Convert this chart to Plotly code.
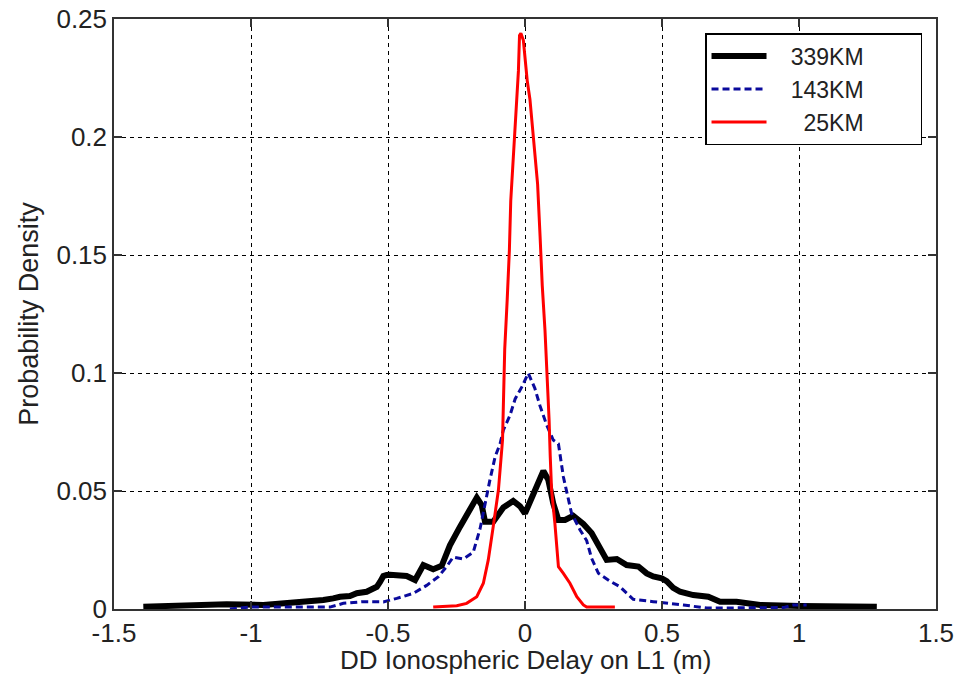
import plotly.graph_objects as go

# ---- data ----
x_339 = [-1.393, -1.186, -1.089, -0.955, -0.882, -0.821, -0.785, -0.736, -0.700, -0.675, -0.639,
         -0.614, -0.578, -0.541, -0.529, -0.517, -0.505, -0.493, -0.432, -0.401, -0.371, -0.335,
         -0.304, -0.274, -0.237, -0.201, -0.176, -0.158, -0.146, -0.116, -0.079, -0.043, -0.018,
         0.000, 0.030, 0.067, 0.085, 0.103, 0.122, 0.146, 0.176, 0.213, 0.243, 0.268, 0.298,
         0.335, 0.371, 0.414, 0.444, 0.468, 0.499, 0.517, 0.541, 0.566, 0.614, 0.669, 0.712,
         0.772, 0.809, 0.858, 1.004, 1.284]
y_339 = [0.0010, 0.0017, 0.0020, 0.0017, 0.0024, 0.0024, 0.0030, 0.0038, 0.0045, 0.0052, 0.0055,
         0.0067, 0.0073, 0.0094, 0.0115, 0.0140, 0.0144, 0.0145, 0.0140, 0.0123, 0.0186, 0.0168,
         0.0183, 0.0270, 0.0349, 0.0420, 0.0472, 0.0440, 0.0370, 0.0370, 0.0430, 0.0458, 0.0435,
         0.0405, 0.0490, 0.0585, 0.0547, 0.0448, 0.0377, 0.0377, 0.0395, 0.0360, 0.0322, 0.0270,
         0.0208, 0.0212, 0.0186, 0.0180, 0.0151, 0.0138, 0.0130, 0.0118, 0.0090, 0.0073, 0.0059,
         0.0052, 0.0031, 0.0031, 0.0024, 0.0017, 0.0013, 0.0010]

x_143 = [-1.077, -1.004, -0.712, -0.663, -0.590, -0.517, -0.468, -0.408, -0.359, -0.316, -0.286,
         -0.262, -0.225, -0.189, -0.164, -0.146, -0.128, -0.109, -0.091, -0.079, -0.055, -0.036,
         -0.012, 0.012, 0.036, 0.055, 0.079, 0.103, 0.122, 0.140, 0.158, 0.170, 0.201, 0.225,
         0.243, 0.268, 0.310, 0.347, 0.371, 0.395, 0.468, 0.529, 0.578, 0.663, 0.943, 0.979, 1.028]
y_143 = [0.0000, 0.0008, 0.0008, 0.0024, 0.0031, 0.0030, 0.0045, 0.0066, 0.0100, 0.0137, 0.0180,
         0.0220, 0.0212, 0.0240, 0.0340, 0.0448, 0.0547, 0.0645, 0.0700, 0.0758, 0.0820, 0.0890,
         0.0940, 0.0999, 0.0935, 0.0860, 0.0780, 0.0716, 0.0700, 0.0560, 0.0470, 0.0405, 0.0335,
         0.0290, 0.0215, 0.0151, 0.0118, 0.0094, 0.0067, 0.0041, 0.0031, 0.0024, 0.0017, 0.0004,
         0.0006, 0.0017, 0.0017]

x_25 = [-0.335, -0.249, -0.213, -0.176, -0.152, -0.134, -0.116, -0.097, -0.082, -0.078, -0.074,
        -0.065, -0.057, -0.052, -0.046, -0.039, -0.030, -0.024, -0.020, -0.015, -0.006, 0.000,
        0.008, 0.018, 0.027, 0.036, 0.046, 0.055, 0.063, 0.073, 0.081, 0.088, 0.092, 0.097,
        0.109, 0.116, 0.122, 0.140, 0.164, 0.189, 0.213, 0.225, 0.328]
y_25 = [0.0008, 0.0014, 0.0024, 0.0052, 0.0109, 0.0208, 0.0349, 0.0504, 0.0716, 0.0900, 0.1100,
        0.1310, 0.1520, 0.1730, 0.1860, 0.1990, 0.2150, 0.2280, 0.2430, 0.2440, 0.2410, 0.2320,
        0.2240, 0.2160, 0.2050, 0.1930, 0.1800, 0.1580, 0.1370, 0.1180, 0.1000, 0.0800, 0.0650,
        0.0504, 0.0364, 0.0264, 0.0179, 0.0151, 0.0109, 0.0052, 0.0017, 0.0008, 0.0008]

series_names = ["339KM", "143KM", "\u00a0\u00a025KM"]

x_tickvals = [-1.5, -1, -0.5, 0, 0.5, 1, 1.5]
x_ticktext = ["-1.5", "-1", "-0.5", "0", "0.5", "1", "1.5"]
y_tickvals = [0, 0.05, 0.1, 0.15, 0.2, 0.25]
y_ticktext = ["0", "0.05", "0.1", "0.15", "0.2", "0.25"]

x_title = "DD Ionospheric Delay on L1 (m)"
y_title = "Probability Density"

FONT = "Liberation Sans, Arial, sans-serif"
TXT = "#222222"
LEAD = "\u00a0" * 3   # gap between legend sample and label
PAD = "\u00a0" * 8    # widens the legend box to match the reference

fig = go.Figure()
fig.add_trace(go.Scatter(x=x_339, y=y_339, mode="lines", name=LEAD + series_names[0] + PAD,
                         line=dict(color="#000000", width=6)))
fig.add_trace(go.Scatter(x=x_143, y=y_143, mode="lines", name=LEAD + series_names[1] + PAD,
                         line=dict(color="#0a0a9c", width=3, dash="7px,4px")))
fig.add_trace(go.Scatter(x=x_25, y=y_25, mode="lines", name=LEAD + series_names[2] + PAD,
                         line=dict(color="#ff0000", width=3)))

axis_common = dict(
    showline=True, linecolor="#333333", linewidth=1.5, mirror="ticks",
    ticks="inside", ticklen=8, tickcolor="#333333", tickwidth=1.5,
    showgrid=True, gridcolor="#000000", gridwidth=1, griddash="4px,4px",
    zeroline=False, automargin=False,
    tickfont=dict(family=FONT, size=26, color=TXT),
)

fig.update_layout(
    width=958, height=675,
    margin=dict(l=114, r=22, t=19, b=66),
    paper_bgcolor="white", plot_bgcolor="white",
    font=dict(family=FONT, size=26, color=TXT),
    xaxis=dict(range=[-1.5, 1.5], tickvals=x_tickvals, ticktext=x_ticktext, **axis_common),
    yaxis=dict(range=[0, 0.25], tickvals=y_tickvals, ticktext=y_ticktext,
               title=dict(text=y_title, standoff=10, font=dict(family=FONT, size=27, color=TXT)),
               **axis_common),
    legend=dict(x=0.719, y=0.976, xanchor="left", yanchor="top",
                bgcolor="white", bordercolor="#000000", borderwidth=1.5,
                font=dict(family=FONT, size=23, color=TXT),
                tracegroupgap=0, itemwidth=55),
    showlegend=True,
    annotations=[dict(text=x_title, xref="paper", yref="paper", x=0.5, y=-0.0864,
                      xanchor="center", yanchor="middle", showarrow=False,
                      font=dict(family=FONT, size=26, color=TXT))],
)

fig.write_html("out.html")
